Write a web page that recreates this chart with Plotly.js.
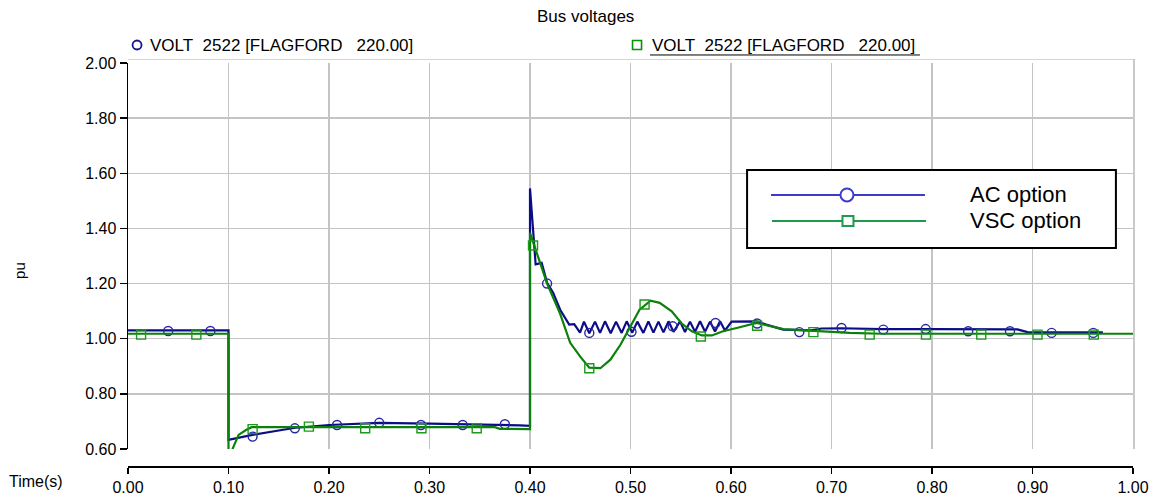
<!DOCTYPE html>
<html>
<head>
<meta charset="utf-8">
<script src="https://cdn.plot.ly/plotly-3.0.1.min.js"></script>
<style>html,body{margin:0;padding:0;background:#fff;}#chart{width:1157px;height:495px;}</style>
</head>
<body>
<div id="chart"></div>
<script>
// ---- data ----
const chartTitle = "Bus voltages";
const channelLabel = "VOLT\u00a0\u00a02522\u00a0[FLAGFORD\u00a0\u00a0\u00a0220.00]";
const seriesNames = ["AC option", "VSC option"];
const xTickVals = [0, 0.1, 0.2, 0.3, 0.4, 0.5, 0.6, 0.7, 0.8, 0.9, 1.0];
const yTickVals = [0.6, 0.8, 1.0, 1.2, 1.4, 1.6, 1.8, 2.0];

// AC option line
const acTime = [0, 0.1, 0.1, 0.125, 0.15, 0.1667, 0.2, 0.25, 0.3, 0.35, 0.39, 0.4, 0.4,
  0.4056, 0.4116, 0.417, 0.423, 0.43, 0.439, 0.444,
  0.4498, 0.4537, 0.459, 0.4647, 0.4697, 0.4746, 0.4803, 0.4856, 0.4912, 0.4962,
  0.5018, 0.5068, 0.5128, 0.5178, 0.5228, 0.5278, 0.5328, 0.5378, 0.5428, 0.5493,
  0.5542, 0.5592, 0.5642, 0.5692, 0.5742, 0.5791, 0.5841, 0.5891, 0.594, 0.6006,
  0.6256, 0.635, 0.652, 0.68, 0.69, 0.71, 0.75, 0.8, 0.885, 0.895, 0.97];
const acVolt = [1.03, 1.03, 0.633, 0.652, 0.667, 0.677, 0.687, 0.695, 0.692, 0.69, 0.686, 0.684, 1.545,
  1.27, 1.275, 1.2025, 1.167, 1.105, 1.051, 1.053,
  1.022, 1.062, 1.02, 1.062, 1.021, 1.063, 1.02, 1.062, 1.021, 1.063,
  1.022, 1.062, 1.021, 1.063, 1.022, 1.062, 1.023, 1.063, 1.025, 1.063,
  1.024, 1.062, 1.025, 1.063, 1.025, 1.062, 1.026, 1.063, 1.03, 1.062,
  1.063, 1.051, 1.033, 1.03, 1.037, 1.038, 1.035, 1.035, 1.034, 1.024, 1.023];
// AC option markers (circles)
const acMarkTime = [0.04, 0.082, 0.124, 0.166, 0.208, 0.25, 0.2915, 0.333, 0.375, 0.417, 0.459,
  0.501, 0.542, 0.5846, 0.626, 0.668, 0.71, 0.7516, 0.7937, 0.836, 0.8776, 0.919, 0.9605];
const acMarkVolt = [1.028, 1.028, 0.645, 0.675, 0.687, 0.695, 0.687, 0.687, 0.69, 1.20, 1.021,
  1.025, 1.045, 1.057, 1.055, 1.024, 1.039, 1.033, 1.035, 1.027, 1.027, 1.021, 1.021];

// VSC option line
const vscTime = [0, 0.1, 0.1, 0.104, 0.11, 0.117, 0.123, 0.2, 0.21, 0.3, 0.365, 0.37, 0.4, 0.4,
  0.405, 0.41, 0.417, 0.43, 0.44, 0.45, 0.459, 0.47, 0.48, 0.49, 0.5, 0.509, 0.52, 0.529,
  0.541, 0.551, 0.561, 0.571, 0.581, 0.592, 0.6056, 0.6256, 0.652, 0.685, 0.718, 0.75, 1.0];
const vscVolt = [1.018, 1.018, 0.5, 0.6, 0.651, 0.668, 0.679, 0.681, 0.679, 0.679, 0.679, 0.673, 0.672, 1.384,
  1.33, 1.28, 1.2, 1.09, 0.985, 0.935, 0.895, 0.893, 0.924, 0.978, 1.045, 1.105, 1.138, 1.13,
  1.099, 1.055, 1.027, 1.012, 1.012, 1.027, 1.039, 1.057, 1.035, 1.027, 1.021, 1.018, 1.018];
// VSC option markers (squares)
const vscMarkTime = [0.013, 0.068, 0.124, 0.18, 0.236, 0.292, 0.347, 0.403, 0.459, 0.514, 0.57,
  0.626, 0.682, 0.738, 0.794, 0.849, 0.905, 0.961];
const vscMarkVolt = [1.015, 1.015, 0.672, 0.681, 0.675, 0.675, 0.675, 1.338, 0.893, 1.124, 1.008,
  1.047, 1.024, 1.015, 1.015, 1.015, 1.015, 1.015];

// ---- styles ----
const FONT = "Liberation Sans, Arial, sans-serif";
const acColor = "#0c0c86";
const acMarkColor = "#2626a6";
const vscColor = "#0b810b";
const vscMarkColor = "#1b9a1b";
const legAcColor = "#3b3bcc";
const legVscColor = "#1e9a4c";
const gridColor = "#c4c4c4";

const traces = [
  {x: acTime, y: acVolt, type: "scatter", mode: "lines", name: seriesNames[0],
   line: {color: acColor, width: 2.2}, hoverinfo: "skip"},
  {x: acMarkTime, y: acMarkVolt, type: "scatter", mode: "markers", name: seriesNames[0],
   marker: {symbol: "circle-open", size: 9, color: acMarkColor, line: {width: 1.4, color: acMarkColor}}, hoverinfo: "skip"},
  {x: vscTime, y: vscVolt, type: "scatter", mode: "lines", name: seriesNames[1],
   line: {color: vscColor, width: 2.2}, hoverinfo: "skip"},
  {x: vscMarkTime, y: vscMarkVolt, type: "scatter", mode: "markers", name: seriesNames[1],
   marker: {symbol: "square-open", size: 9, color: vscMarkColor, line: {width: 1.4, color: vscMarkColor}}, hoverinfo: "skip"}
];

const layout = {
  width: 1157, height: 495,
  margin: {l: 128, r: 24, t: 63, b: 29, pad: 0},
  paper_bgcolor: "#ffffff", plot_bgcolor: "#ffffff",
  showlegend: false,
  font: {family: FONT, color: "#000", size: 16},
  xaxis: {
    range: [0, 1], tickvals: xTickVals, tickformat: ".2f",
    anchor: "free", position: 0,
    showline: true, linecolor: "#000", linewidth: 1.5,
    ticks: "outside", ticklen: 6, tickwidth: 1.5, tickcolor: "#000",
    showgrid: true, gridcolor: gridColor, gridwidth: 1.5, zeroline: false,
    tickfont: {family: FONT, size: 16, color: "#000"}, fixedrange: true
  },
  yaxis: {
    range: [0.6, 2.0], tickvals: yTickVals, tickformat: ".2f",
    domain: [17/403, 1],
    showline: true, linecolor: "#000", linewidth: 1.5,
    ticks: "outside", ticklen: 7, tickwidth: 1.5, tickcolor: "#000",
    showgrid: true, gridcolor: gridColor, gridwidth: 1.5, zeroline: false,
    tickfont: {family: FONT, size: 16, color: "#000"}, fixedrange: true
  },
  shapes: [
    // frame top/right (light)
    {type: "line", xref: "paper", yref: "paper", x0: 0, x1: 1.001, y0: 1.0087, y1: 1.0087, line: {color: "#d4d4d4", width: 1.2}},
    {type: "line", xref: "paper", yref: "paper", x0: 1.001, x1: 1.001, y0: 17/403, y1: 1.0099, line: {color: "#b8b8b8", width: 1.5}},
    // boxed legend
    {type: "rect", xref: "paper", yref: "paper", x0: 0.616, x1: 0.983, y0: 0.541, y1: 0.7345,
     line: {color: "#000", width: 2}, fillcolor: "#ffffff", layer: "above"},
    {type: "line", xref: "paper", yref: "paper", x0: 0.6398, x1: 0.793, y0: 0.6725, y1: 0.6725,
     line: {color: legAcColor, width: 2}, layer: "above"},
    {type: "circle", xref: "paper", yref: "paper", xsizemode: "pixel", ysizemode: "pixel",
     xanchor: 0.7154, yanchor: 0.6725, x0: -6.5, x1: 6.5, y0: -6.5, y1: 6.5,
     line: {color: legAcColor, width: 2}, fillcolor: "#ffffff", layer: "above"},
    {type: "line", xref: "paper", yref: "paper", x0: 0.6408, x1: 0.794, y0: 0.608, y1: 0.608,
     line: {color: legVscColor, width: 2}, layer: "above"},
    {type: "rect", xref: "paper", yref: "paper", xsizemode: "pixel", ysizemode: "pixel",
     xanchor: 0.7164, yanchor: 0.608, x0: -5.5, x1: 5.5, y0: -5, y1: 5,
     line: {color: legVscColor, width: 2}, fillcolor: "#ffffff", layer: "above"},
    // channel legend symbols at top
    {type: "circle", xref: "paper", yref: "paper", xsizemode: "pixel", ysizemode: "pixel",
     xanchor: 0.009, yanchor: 1.0447, x0: -4.5, x1: 4.5, y0: -4.5, y1: 4.5,
     line: {color: "#14148a", width: 1.8}, fillcolor: "rgba(0,0,0,0)"},
    {type: "rect", xref: "paper", yref: "paper", xsizemode: "pixel", ysizemode: "pixel",
     xanchor: 0.5065, yanchor: 1.0447, x0: -4.5, x1: 4.5, y0: -4.5, y1: 4.5,
     line: {color: "#0b900b", width: 1.6}, fillcolor: "rgba(0,0,0,0)"},
    // underline of second channel label
    {type: "line", xref: "paper", yref: "paper", x0: 0.5194, x1: 0.788, y0: 1.0199, y1: 1.0199,
     line: {color: "#000", width: 1}}
  ],
  annotations: [
    {text: chartTitle, xref: "paper", yref: "paper", x: 0.4557, y: 1.1166, xanchor: "center", yanchor: "middle",
     showarrow: false, font: {family: FONT, size: 17, color: "#000"}},
    {text: channelLabel, xref: "paper", yref: "paper", x: 0.0199, y: 1.0422, xanchor: "left", yanchor: "middle",
     showarrow: false, font: {family: FONT, size: 17, color: "#000"}},
    {text: channelLabel, xref: "paper", yref: "paper", x: 0.5194, y: 1.0422, xanchor: "left", yanchor: "middle",
     showarrow: false, font: {family: FONT, size: 17, color: "#000"}},
    {text: "pu", xref: "paper", yref: "paper", x: -0.1075, y: 0.4864, xanchor: "center", yanchor: "middle",
     textangle: -90, showarrow: false, font: {family: FONT, size: 15, color: "#000"}},
    {text: "Time(s)", xref: "paper", yref: "paper", x: -0.0915, y: -0.0397, xanchor: "center", yanchor: "middle",
     showarrow: false, font: {family: FONT, size: 16, color: "#000"}},
    {text: seriesNames[0], xref: "paper", yref: "paper", x: 0.836, y: 0.6725, xanchor: "left", yanchor: "middle",
     showarrow: false, font: {family: FONT, size: 22, color: "#000"}},
    {text: seriesNames[1], xref: "paper", yref: "paper", x: 0.836, y: 0.608, xanchor: "left", yanchor: "middle",
     showarrow: false, font: {family: FONT, size: 22, color: "#000"}}
  ]
};

Plotly.newPlot("chart", traces, layout, {displayModeBar: false, staticPlot: true});
</script>
</body>
</html>
